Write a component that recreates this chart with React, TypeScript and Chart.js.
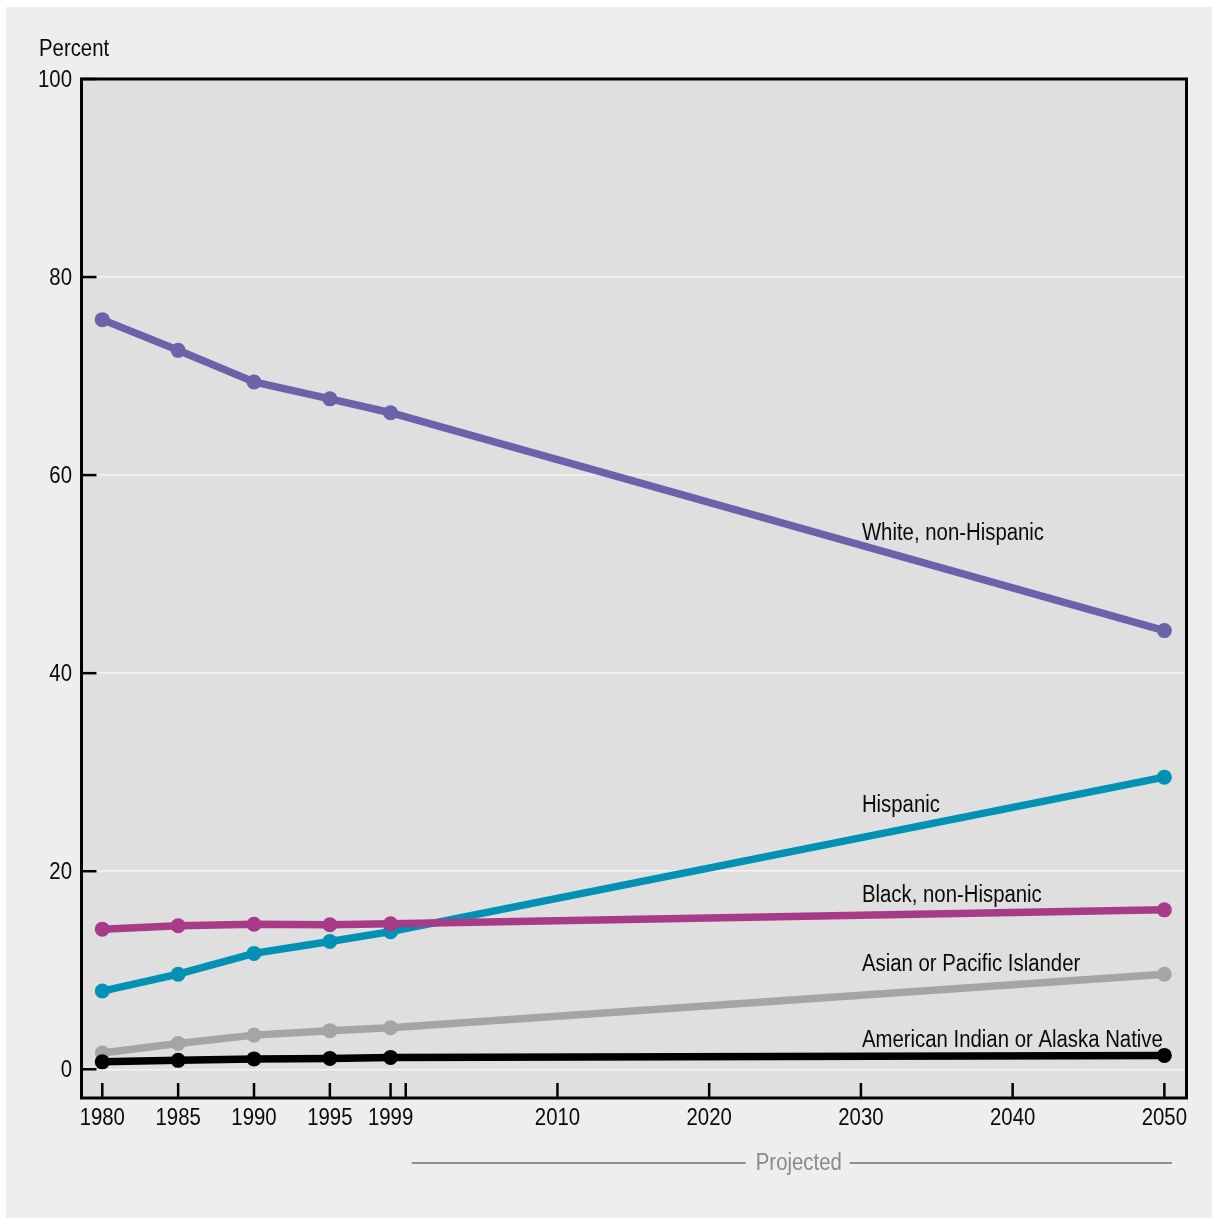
import React, { useEffect, useRef } from "react";
import { Chart, registerables } from "chart.js";

Chart.register(...registerables);

const years = [1980, 1985, 1990, 1995, 1999, 2050];
const whiteNH = [75.7, 72.6, 69.4, 67.7, 66.3, 44.3];
const hispanic = [7.9, 9.6, 11.7, 12.9, 13.9, 29.5];
const blackNH = [14.15, 14.5, 14.65, 14.6, 14.7, 16.1];
const asianPI = [1.65, 2.6, 3.45, 3.9, 4.2, 9.6];
const amIndian = [0.75, 0.9, 1.05, 1.1, 1.2, 1.4];

const seriesNames = [
  "White, non-Hispanic",
  "Hispanic",
  "Black, non-Hispanic",
  "Asian or Pacific Islander",
  "American Indian or Alaska Native",
];
const seriesColors = ["#6a63a9", "#0091b5", "#a83b88", "#a5a5a5", "#000000"];
// label anchors (year, value of text baseline)
const labelYear = 2030;
const labelValues = [53.45, 25.97, 16.87, 9.9, 2.22];

const xTickValues = [1980, 1985, 1990, 1995, 1999, 2000, 2010, 2020, 2030, 2040, 2050];
const xTickLabels = ["1980", "1985", "1990", "1995", "1999", "", "2010", "2020", "2030", "2040", "2050"];
const yTickValues = [0, 20, 40, 60, 80, 100];
const yTickLabels = ["0", "20", "40", "60", "80", "100"];
const projectedRange = [2000, 2050];

const FONT = "'Liberation Sans', Arial, sans-serif";
const FONT_SIZE = 23;
const SX = 0.885;

function drawText(ctx: CanvasRenderingContext2D, text: string, x: number, y: number, align: CanvasTextAlign, baseline: CanvasTextBaseline, color: string) {
  ctx.save();
  ctx.translate(x, y);
  ctx.scale(SX, 1);
  ctx.font = `${FONT_SIZE}px ${FONT}`;
  ctx.fillStyle = color;
  ctx.textAlign = align;
  ctx.textBaseline = baseline;
  ctx.fillText(text, 0, 0);
  ctx.restore();
}

export default function App() {
  const ref = useRef<HTMLCanvasElement | null>(null);

  useEffect(() => {
    document.body.style.margin = "0";
    const canvas = ref.current;
    if (!canvas) return;
    const allSeries = [whiteNH, hispanic, blackNH, asianPI, amIndian];

    const customPlugin = {
      id: "custom",
      beforeDraw(chart: any) {
        const { ctx, chartArea: a } = chart;
        ctx.save();
        ctx.fillStyle = "#dfdfdf";
        ctx.fillRect(a.left, a.top, a.right - a.left, a.bottom - a.top);
        ctx.restore();
      },
      beforeDatasetsDraw(chart: any) {
        const { ctx, chartArea: a, scales } = chart;
        ctx.save();
        ctx.strokeStyle = "#000";
        ctx.lineWidth = 2.5;
        for (const v of xTickValues) {
          const x = scales.x.getPixelForValue(v);
          ctx.beginPath();
          ctx.moveTo(x, a.bottom);
          ctx.lineTo(x, a.bottom - 15);
          ctx.stroke();
        }
        for (const v of yTickValues) {
          const y = scales.y.getPixelForValue(v);
          ctx.beginPath();
          ctx.moveTo(a.left, y);
          ctx.lineTo(a.left + 15, y);
          ctx.stroke();
        }
        ctx.restore();
      },
      afterDatasetsDraw(chart: any) {
        const { ctx, chartArea: a, scales } = chart;
        ctx.save();
        ctx.strokeStyle = "#000";
        ctx.lineWidth = 3;
        ctx.strokeRect(a.left, a.top, a.right - a.left, a.bottom - a.top);
        ctx.restore();
        const lx = scales.x.getPixelForValue(labelYear) + 1;
        seriesNames.forEach((n, i) => {
          drawText(ctx, n, lx, scales.y.getPixelForValue(labelValues[i]), "left", "alphabetic", "#0a0a0a");
        });
      },
      afterDraw(chart: any) {
        const { ctx, scales, chartArea: a } = chart;
        drawText(ctx, "Percent", 33, 43, "left", "middle", "#0a0a0a");
        yTickValues.forEach((v, i) => {
          drawText(ctx, yTickLabels[i], a.left - 9.5, scales.y.getPixelForValue(v) + 1.5, "right", "middle", "#0a0a0a");
        });
        xTickValues.forEach((v, i) => {
          if (xTickLabels[i]) drawText(ctx, xTickLabels[i], scales.x.getPixelForValue(v), a.bottom + 21, "center", "middle", "#0a0a0a");
        });
        const x0 = scales.x.getPixelForValue(projectedRange[0]) + 6;
        const x1 = scales.x.getPixelForValue(projectedRange[1]) + 7.5;
        const y = 1156;
        const label = "Projected";
        ctx.save();
        ctx.font = `${FONT_SIZE}px ${FONT}`;
        const w = ctx.measureText(label).width * SX;
        const cx = (x0 + x1) / 2 + 7;
        ctx.strokeStyle = "#333";
        ctx.lineWidth = 1.2;
        ctx.beginPath();
        ctx.moveTo(x0, y);
        ctx.lineTo(cx - w / 2 - 10, y);
        ctx.moveTo(cx + w / 2 + 8, y);
        ctx.lineTo(x1, y);
        ctx.stroke();
        ctx.restore();
        drawText(ctx, label, cx, y + 1, "center", "middle", "#8a8a8a");
      },
    };

    const chart = new Chart(canvas, {
      type: "line",
      data: {
        datasets: allSeries.map((s, i) => ({
          label: seriesNames[i],
          data: years.map((yr, j) => ({ x: yr, y: s[j] })),
          borderColor: seriesColors[i],
          backgroundColor: seriesColors[i],
          pointBackgroundColor: seriesColors[i],
          pointBorderColor: seriesColors[i],
          borderWidth: 7.5,
          pointRadius: 7.5,
          pointBorderWidth: 0,
          tension: 0,
          order: seriesNames.length - i,
        })),
      },
      options: {
        animation: false,
        responsive: false,
        maintainAspectRatio: false,
        layout: { padding: { left: 0, top: 72, right: 25.5, bottom: 0 } },
        plugins: { legend: { display: false }, tooltip: { enabled: false } },
        scales: {
          x: {
            type: "linear",
            min: 1978.63,
            max: 2051.46,
            afterBuildTicks: (s: any) => {
              s.ticks = xTickValues.map((v) => ({ value: v }));
            },
            afterFit: (s: any) => {
              s.height = 120;
            },
            grid: { display: false, drawTicks: false },
            border: { display: false },
            ticks: { display: false },
          },
          y: {
            type: "linear",
            min: -2.9,
            max: 100,
            afterBuildTicks: (s: any) => {
              s.ticks = yTickValues.map((v) => ({ value: v }));
            },
            afterFit: (s: any) => {
              s.width = 75.5;
            },
            grid: { color: "#f3f3f3", lineWidth: 1.5, drawTicks: false },
            border: { display: false },
            ticks: { display: false },
          },
        },
      },
      plugins: [customPlugin],
    });
    return () => chart.destroy();
  }, []);

  return (
    <div
      style={{
        position: "absolute",
        left: 6,
        top: 7,
        width: 1206,
        height: 1211,
        background: "#eeeeee",
      }}
    >
      <canvas ref={ref} width={1206} height={1211} style={{ display: "block" }} />
    </div>
  );
}
